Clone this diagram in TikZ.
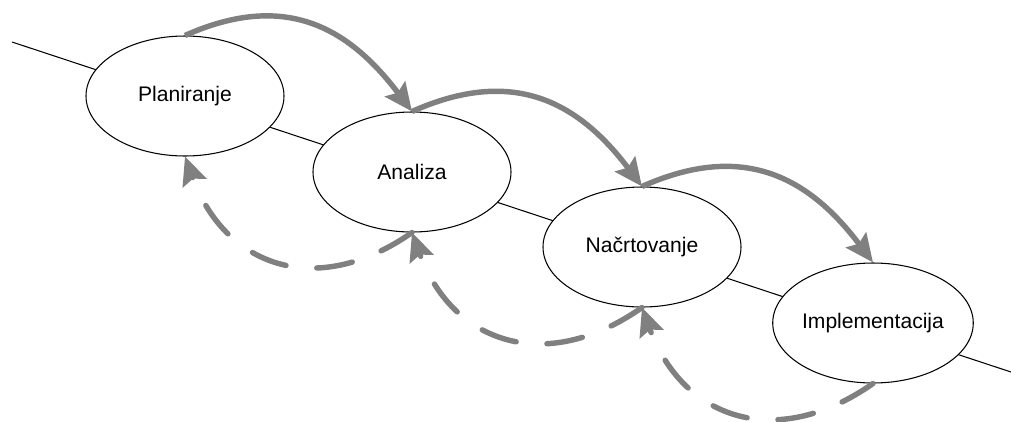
\documentclass[tikz,border=0pt]{standalone}
\usepackage{fontspec}
\setmainfont{Liberation Sans}
\usepackage{tikz}
\usetikzlibrary{arrows.meta, shapes.geometric}

\begin{document}
\begin{tikzpicture}[
  faza/.style={ellipse, draw, fill=white, line width=0.6pt, minimum width=3.96cm, minimum height=2.4cm, inner sep=0pt, font=\fontsize{12}{14}\selectfont},
  naprej/.style={draw=gray, line width=3.1pt, -{Stealth[length=0.56cm, width=0.5cm, inset=0.09cm]}},
  nazaj/.style={naprej, line cap=round, dash pattern=on 0.72cm off 0.62cm}
]
\useasboundingbox (0,0) rectangle (20.22,-8.42);
% os
\draw[line width=0.6pt] (0.24,-0.84) -- (20.22,-7.44);
% faze
\node[faza] (plan) at (3.70,-1.92) {Planiranje};
\node[faza] (analiza) at (8.24,-3.44) {Analiza};
\node[faza] (nacrt) at (12.84,-4.94) {Načrtovanje};
\node[faza] (impl) at (17.46,-6.46) {Implementacija};
% puscice
\foreach \a/\b in {plan/analiza, analiza/nacrt, nacrt/impl} {
  \draw[naprej] (\a.north) to[out=24, in=127, looseness=1.15] (\b.north);
  \draw[nazaj] (\b.south) to[out=215, in=-70, looseness=1.25] (\a.south);
}
\end{tikzpicture}
\end{document}
